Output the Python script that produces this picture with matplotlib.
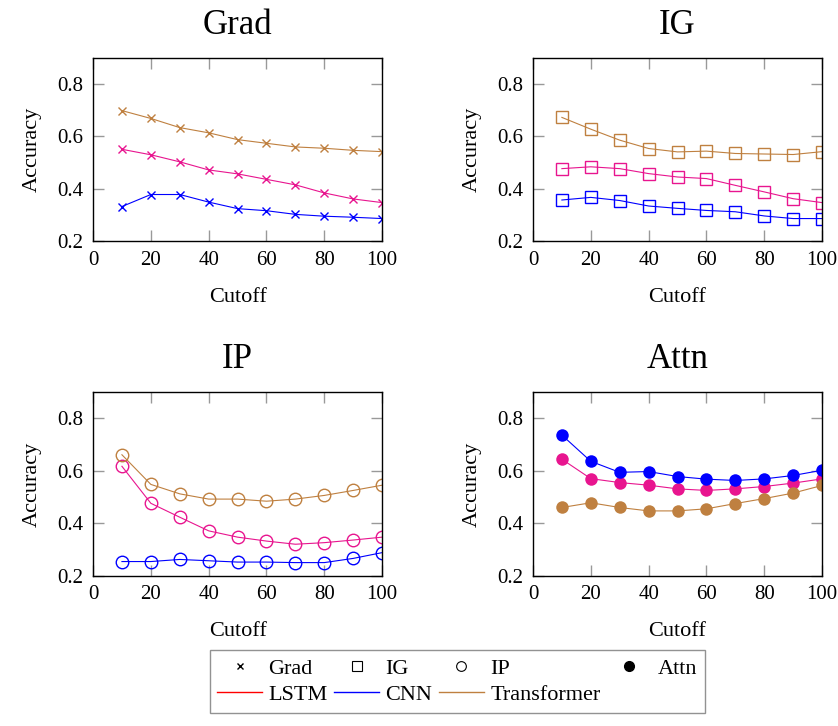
import matplotlib
matplotlib.use("Agg")
import matplotlib.pyplot as plt
import matplotlib.lines as mlines

plt.rcParams['font.family'] = ['Liberation Serif', 'DejaVu Serif']

# data
cutoff = [10, 20, 30, 40, 50, 60, 70, 80, 90, 100]

grad_lstm = [0.551, 0.530, 0.503, 0.472, 0.457, 0.436, 0.415, 0.384, 0.361, 0.347]
grad_cnn = [0.332, 0.378, 0.378, 0.349, 0.324, 0.316, 0.302, 0.295, 0.291, 0.286]
grad_transformer = [0.699, 0.669, 0.634, 0.614, 0.588, 0.574, 0.560, 0.555, 0.547, 0.542]

ig_lstm = [0.477, 0.484, 0.477, 0.458, 0.445, 0.439, 0.413, 0.388, 0.362, 0.347]
ig_cnn = [0.357, 0.367, 0.355, 0.334, 0.325, 0.317, 0.312, 0.296, 0.286, 0.286]
ig_transformer = [0.673, 0.628, 0.586, 0.554, 0.541, 0.544, 0.535, 0.533, 0.531, 0.542]

ip_lstm = [0.617, 0.476, 0.423, 0.371, 0.347, 0.332, 0.320, 0.326, 0.336, 0.347]
ip_cnn = [0.254, 0.254, 0.262, 0.257, 0.252, 0.252, 0.250, 0.250, 0.266, 0.288]
ip_transformer = [0.661, 0.548, 0.512, 0.492, 0.492, 0.484, 0.492, 0.506, 0.525, 0.545]

attn_lstm = [0.644, 0.570, 0.555, 0.545, 0.531, 0.525, 0.531, 0.540, 0.553, 0.569]
attn_cnn = [0.736, 0.636, 0.594, 0.597, 0.578, 0.568, 0.563, 0.569, 0.582, 0.602]
attn_transformer = [0.460, 0.478, 0.460, 0.447, 0.447, 0.455, 0.475, 0.494, 0.515, 0.544]

methods = ['Grad', 'IG', 'IP', 'Attn']
models = ['LSTM', 'CNN', 'Transformer']
series = {
    'Grad': [grad_lstm, grad_cnn, grad_transformer],
    'IG': [ig_lstm, ig_cnn, ig_transformer],
    'IP': [ip_lstm, ip_cnn, ip_transformer],
    'Attn': [attn_lstm, attn_cnn, attn_transformer],
}

# styles
plot_colors = ['#e8158f', '#0000ff', '#bf8040']
legend_colors = ['#ff0000', '#0000ff', '#bf8040']
markers = {'Grad': 'x', 'IG': 's', 'IP': 'o', 'Attn': 'o'}
filled = {'Grad': True, 'IG': False, 'IP': False, 'Attn': True}
msizes = {'Grad': 6, 'IG': 9, 'IP': 9, 'Attn': 9}

fig = plt.figure(figsize=(8.38, 7.26), dpi=100)
positions = [
    [0.111, 0.668, 0.345, 0.252],
    [0.636, 0.668, 0.345, 0.252],
    [0.111, 0.207, 0.345, 0.253],
    [0.636, 0.207, 0.345, 0.253],
]

for method, pos in zip(methods, positions):
    ax = fig.add_axes(pos)
    for vals, color in zip(series[method], plot_colors):
        if filled[method]:
            ax.plot(cutoff, vals, color=color, linewidth=0.8, marker=markers[method],
                    markersize=msizes[method], markeredgewidth=1.0 if method == 'Grad' else 0)
        else:
            ax.plot(cutoff, vals, color=color, linewidth=0.8, marker=markers[method],
                    markersize=msizes[method], markerfacecolor='none', markeredgewidth=1.0)
    ax.set_xlim(0, 100)
    ax.set_ylim(0.2, 0.9)
    ax.set_xticks([0, 20, 40, 60, 80, 100])
    ax.set_yticks([0.2, 0.4, 0.6, 0.8])
    ax.tick_params(direction='in', length=8, width=1, color='#999999',
                   top=True, right=True, labelsize=15, pad=7)
    for sp in ax.spines.values():
        sp.set_linewidth(1)
    ax.set_title(method, fontsize=25, pad=17)
    ax.set_xlabel('Cutoff', fontsize=16, labelpad=13)
    ax.set_ylabel('Accuracy', fontsize=16, labelpad=11)

# legend: markers on first row, models on second row
h_grad = mlines.Line2D([], [], color='black', marker='x', linestyle='none', markersize=5)
h_ig = mlines.Line2D([], [], color='black', marker='s', linestyle='none', markersize=7,
                     markerfacecolor='none', markeredgewidth=0.8)
h_ip = mlines.Line2D([], [], color='black', marker='o', linestyle='none', markersize=7,
                     markerfacecolor='none', markeredgewidth=0.8)
h_attn = mlines.Line2D([], [], color='black', marker='o', linestyle='none', markersize=7)
h_lstm = mlines.Line2D([], [], color=legend_colors[0], linewidth=1)
h_cnn = mlines.Line2D([], [], color=legend_colors[1], linewidth=1)
h_tr = mlines.Line2D([], [], color=legend_colors[2], linewidth=1)

handles = [h_grad, h_lstm, h_ig, h_cnn, h_ip, h_tr, h_attn]
labels = ['Grad', 'LSTM', 'IG', 'CNN', 'IP', 'Transformer', 'Attn']
leg = fig.legend(handles, labels, loc='lower center', bbox_to_anchor=(0.546, 0.003),
                 ncol=4, fontsize=16, frameon=True, fancybox=False, edgecolor='#777777',
                 handlelength=2.0, handletextpad=0.3, columnspacing=0.3,
                 labelspacing=0.25, borderpad=0.35)
leg.get_frame().set_linewidth(1)

plt.savefig('out.png', dpi=100)
